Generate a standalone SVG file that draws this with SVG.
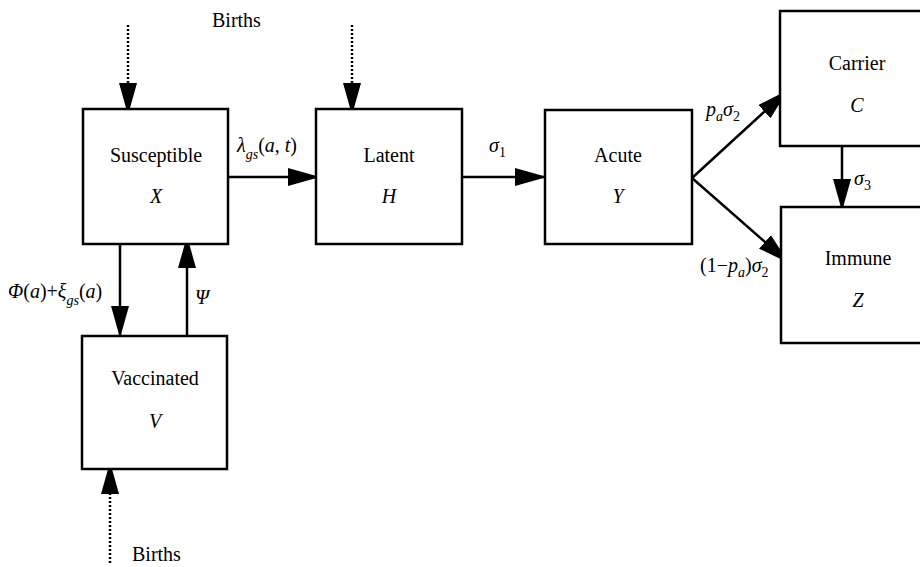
<svg xmlns="http://www.w3.org/2000/svg" width="920" height="567" viewBox="0 0 920 567">
<defs>
<marker id="ah" viewBox="0 0 32 18" refX="32" refY="9" markerWidth="32" markerHeight="18" markerUnits="userSpaceOnUse" orient="auto">
<path d="M0,0 L32,9 L0,18 z" fill="#000"/>
</marker>
</defs>
<style>
text{font-family:"Liberation Serif","Times New Roman",serif;font-size:20px;fill:#000}
.c{text-anchor:middle}
.i{font-style:italic}
.s{font-size:14px}
rect{fill:#fff;stroke:#000;stroke-width:2.5}
.e{stroke:#000;stroke-width:2.5;fill:none;marker-end:url(#ah)}
.d{stroke:#000;stroke-width:2.5;stroke-dasharray:2 2;fill:none;marker-end:url(#ah)}
</style>
<rect width="920" height="567" style="fill:#fff;stroke:none"/>
<g id="connectors">
<line class="d" x1="128" y1="25" x2="128" y2="115"/>
<line class="d" x1="352" y1="25" x2="352" y2="115"/>
<line class="d" x1="110" y1="563" x2="110" y2="462"/>
<line class="e" x1="228" y1="177" x2="320" y2="177"/>
<line class="e" x1="462" y1="177" x2="547" y2="177"/>
<line class="e" x1="692" y1="178" x2="788" y2="90"/>
<line class="e" x1="692" y1="178" x2="789" y2="263"/>
<line class="e" x1="842" y1="146" x2="842" y2="211"/>
<line class="e" x1="120" y1="245" x2="120" y2="338"/>
<line class="e" x1="187" y1="336" x2="187" y2="236"/>
</g>
<g id="susceptible">
<rect x="83" y="109" width="145" height="135"/>
<text class="c" x="156" y="162">Susceptible</text>
<text class="c i" x="156" y="203">X</text>
</g>
<g id="latent">
<rect x="316" y="109" width="146" height="135"/>
<text class="c" x="389" y="162">Latent</text>
<text class="c i" x="389" y="203">H</text>
</g>
<g id="acute">
<rect x="545" y="110" width="147" height="134"/>
<text class="c" x="618" y="162">Acute</text>
<text class="c i" x="618" y="203">Y</text>
</g>
<g id="carrier">
<rect x="780" y="11" width="150" height="135"/>
<text class="c" x="857" y="70">Carrier</text>
<text class="c i" x="857" y="112">C</text>
</g>
<g id="immune">
<rect x="781" y="207" width="150" height="136"/>
<text class="c" x="858" y="265">Immune</text>
<text class="c i" x="858" y="307">Z</text>
</g>
<g id="vaccinated">
<rect x="82" y="336" width="145" height="133"/>
<text class="c" x="155" y="385">Vaccinated</text>
<text class="c i" x="155" y="428">V</text>
</g>
<g id="labels">
<text x="212" y="27">Births</text>
<text x="132" y="561">Births</text>
<text x="237" y="152"><tspan class="i">λ</tspan><tspan class="i s" dy="7">gs</tspan><tspan dy="-7">(</tspan><tspan class="i">a</tspan>, <tspan class="i">t</tspan>)</text>
<text x="489" y="152"><tspan class="i">σ</tspan><tspan class="s" dy="5">1</tspan></text>
<text x="8" y="298"><tspan class="i">Φ</tspan>(<tspan class="i">a</tspan>)+<tspan class="i">ξ</tspan><tspan class="i s" dy="7">gs</tspan><tspan dy="-7">(</tspan><tspan class="i">a</tspan>)</text>
<text class="i" x="195" y="304">Ψ</text>
<text x="706" y="116"><tspan class="i">p</tspan><tspan class="i s" dy="5">a</tspan><tspan class="i" dy="-5">σ</tspan><tspan class="s" dy="5">2</tspan></text>
<text x="700" y="272">(1−<tspan class="i">p</tspan><tspan class="i s" dy="5">a</tspan><tspan dy="-5">)</tspan><tspan class="i">σ</tspan><tspan class="s" dy="5">2</tspan></text>
<text x="854" y="185"><tspan class="i">σ</tspan><tspan class="s" dy="5">3</tspan></text>
</g>
</svg>
